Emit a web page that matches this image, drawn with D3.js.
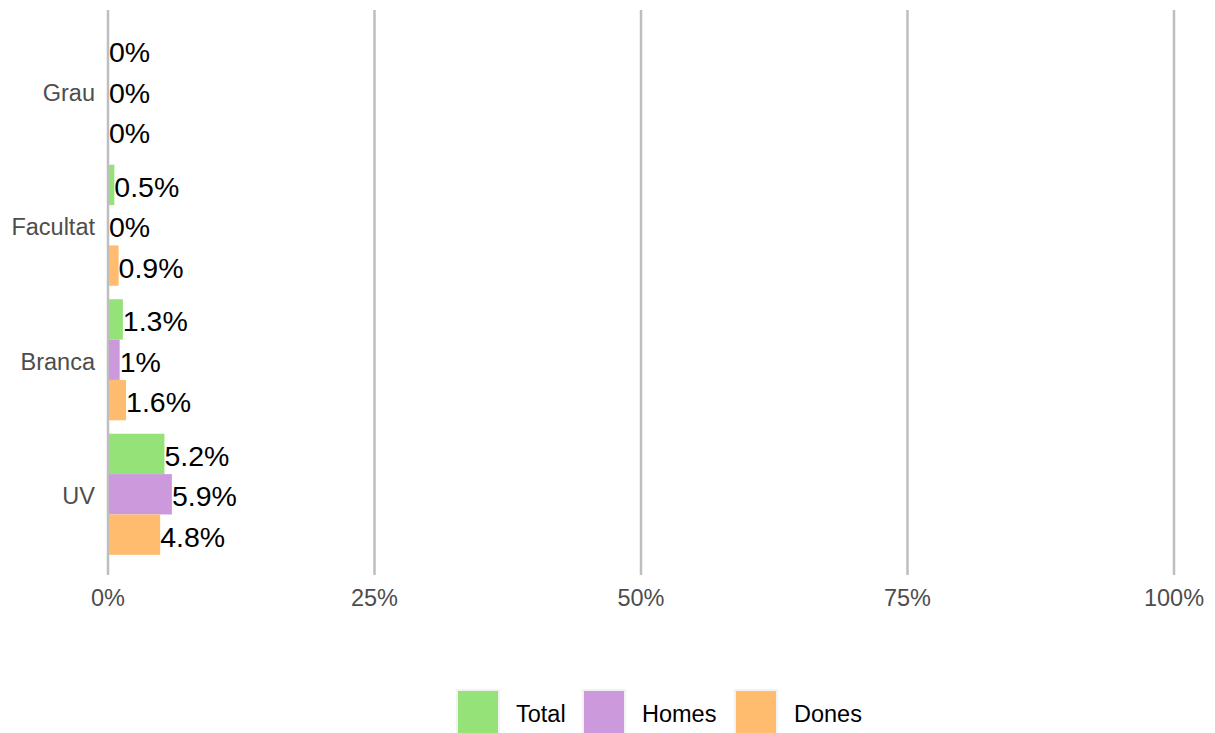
<!DOCTYPE html>
<html lang="en">
<head>
  <meta charset="UTF-8" />
  <title>Grouped bars</title>
  <script src="https://d3js.org/d3.v7.min.js"></script>
  <style>
    body { margin: 0; background: #fff; }
    text { font-family: "Liberation Sans", Arial, sans-serif; }
    .tick-label { fill: #4d4d4d; font-size: 23.5px; }
    .value-label { fill: #000; font-size: 28.5px; }
    .legend-label { fill: #000; font-size: 23.5px; }
  </style>
</head>
<body>
  <svg id="chart" width="1215" height="733"></svg>

  <script>
    const categories = ['Grau', 'Facultat', 'Branca', 'UV'];
    const series = ['Total', 'Homes', 'Dones'];
    const colors = ['#95e278', '#cc99dd', '#ffbb6e'];
    const totalVals = [0, 0.5, 1.3, 5.2];
    const homesVals = [0, 0, 1, 5.9];
    const donesVals = [0, 0.9, 1.6, 4.8];
    const xTicks = [0, 25, 50, 75, 100];

    const values = [totalVals, homesVals, donesVals];
    const rows = [];
    categories.forEach((c, ci) => {
      series.forEach((s, si) => rows.push({ cat: c, series: s, si: si, value: values[si][ci] }));
    });

    const svg = d3.select("#chart");
    const mLeft = 108, mRight = 1174, mTop = 10, mBottom = 575;

    const x = d3.scaleLinear().domain([0, 100]).range([mLeft, mRight]);
    // discrete scale with ggplot-like 0.6 expansion
    const y = d3.scaleBand().domain(categories).range([mTop, mBottom]).paddingOuter(0.1).paddingInner(0);
    const inner = d3.scaleBand().domain(series).range([0, y.bandwidth() * 0.9]);

    // grid lines
    svg.selectAll("line.grid")
      .data(xTicks)
      .enter()
      .append("line")
      .attr("x1", d => x(d))
      .attr("x2", d => x(d))
      .attr("y1", mTop)
      .attr("y2", mBottom)
      .attr("stroke", "#bebebe")
      .attr("stroke-width", 2.5);

    // bars
    const barY = d => y(d.cat) + y.bandwidth() * 0.05 + inner(d.series);
    svg.selectAll("rect.bar")
      .data(rows)
      .enter()
      .append("rect")
      .attr("x", x(0) + 1)
      .attr("y", barY)
      .attr("width", d => Math.max(0, x(d.value) - x(0)))
      .attr("height", inner.bandwidth())
      .attr("fill", d => colors[d.si]);

    // value labels
    svg.selectAll("text.value-label")
      .data(rows)
      .enter()
      .append("text")
      .attr("class", "value-label")
      .attr("x", d => x(d.value) + 1)
      .attr("y", d => barY(d) + inner.bandwidth() / 2)
      .attr("dy", "0.42em")
      .text(d => d.value + "%");

    // y axis labels
    svg.selectAll("text.ylab")
      .data(categories)
      .enter()
      .append("text")
      .attr("class", "tick-label")
      .attr("x", mLeft - 13)
      .attr("y", d => y(d) + y.bandwidth() / 2)
      .attr("dy", "0.42em")
      .attr("text-anchor", "end")
      .text(d => d);

    // x axis labels
    svg.selectAll("text.xlab")
      .data(xTicks)
      .enter()
      .append("text")
      .attr("class", "tick-label")
      .attr("x", d => x(d))
      .attr("y", 606)
      .attr("text-anchor", "middle")
      .text(d => d + "%");

    // legend
    const legendX = [456, 582, 734];
    const lg = svg.selectAll("g.legend")
      .data(series)
      .enter()
      .append("g")
      .attr("transform", (d, i) => `translate(${legendX[i]},689)`);
    lg.append("rect")
      .attr("width", 44)
      .attr("height", 44)
      .attr("fill", "#f2f2f2");
    lg.append("rect")
      .attr("x", 2)
      .attr("y", 2)
      .attr("width", 40)
      .attr("height", 42)
      .attr("fill", (d, i) => colors[i]);
    lg.append("text")
      .attr("class", "legend-label")
      .attr("x", 60)
      .attr("y", 23)
      .attr("dy", "0.42em")
      .text(d => d);
  </script>
</body>
</html>
